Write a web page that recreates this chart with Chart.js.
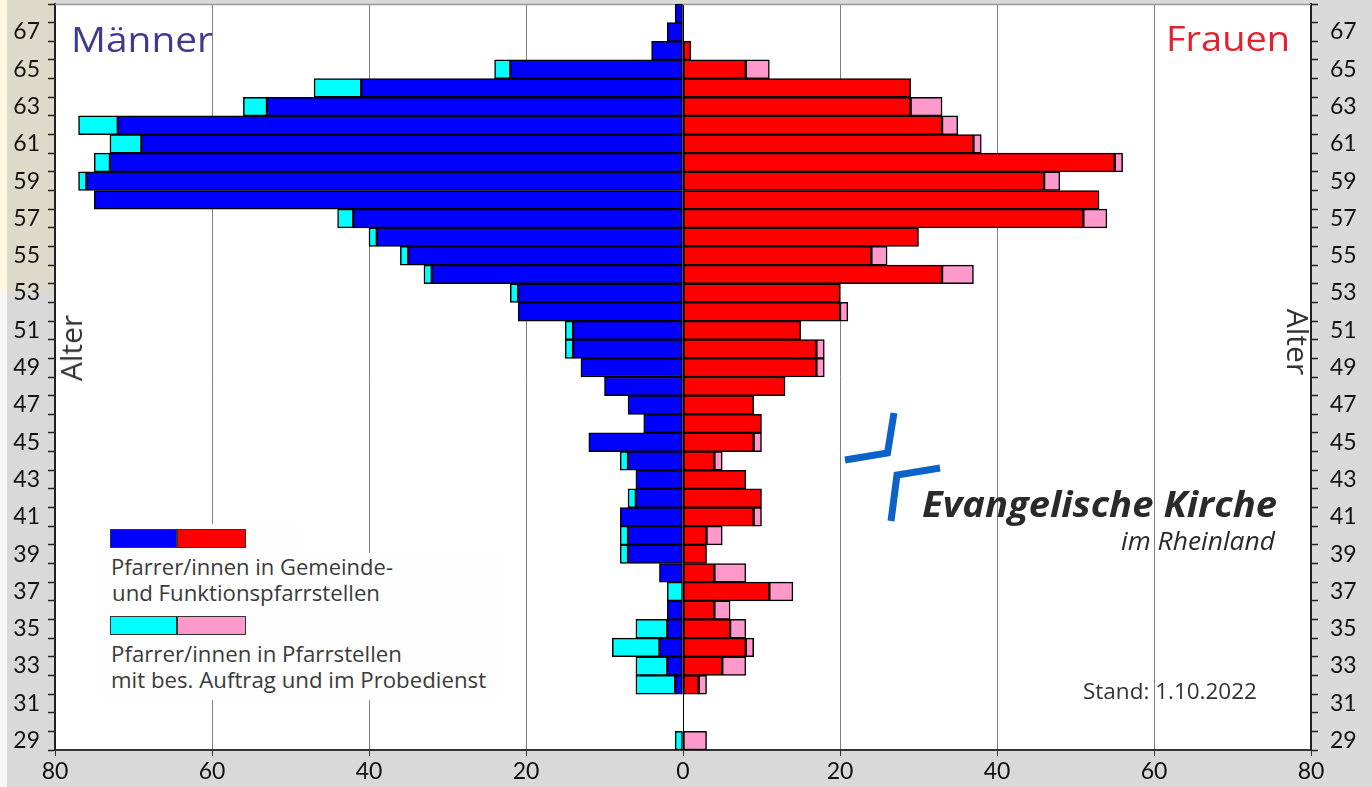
<!DOCTYPE html>
<html><head><meta charset="utf-8">
<script src="https://cdn.jsdelivr.net/npm/chart.js@4.4.1/dist/chart.umd.min.js"></script>
<style>
html,body{margin:0;padding:0;}
body{width:1372px;height:787px;position:relative;overflow:hidden;background:#d9d9d9;font-family:'Open Sans',sans-serif;}
#beige{position:absolute;left:0;top:0;width:55px;height:292px;background:#dedac9;}
#cream{position:absolute;left:0;top:0;width:7px;height:292px;background:#fdf8e2;}
#whitestrip{position:absolute;left:0;top:292px;width:7px;height:495px;background:#f6f6f6;}
canvas{position:absolute;left:0;top:0;}
.box{position:absolute;background:#fefefe;}
.sw{position:absolute;width:67px;height:19px;border:1px solid #333;box-sizing:border-box;}
.t{position:absolute;white-space:nowrap;line-height:1;transform-origin:0 0;color:#3a3a3a;}
.bl{display:inline-block;width:0;height:0;vertical-align:baseline;}
.r{position:absolute;white-space:nowrap;line-height:1;font-size:30px;color:#333;}
svg{position:absolute;left:0;top:0;}
</style>
</head>
<body>
<div id="beige"></div><div id="cream"></div><div id="whitestrip"></div>
<canvas id="c" width="1372" height="787" style="width:1372px;height:787px"></canvas>

<div class="box" style="left:100px;top:524px;width:200px;height:30px"></div>
<div class="box" style="left:100px;top:553px;width:400px;height:147px"></div>
<div class="sw" style="left:110px;top:529px;background:#0000ff"></div>
<div class="sw" style="left:177px;top:529px;width:69px;background:#ff0000"></div>
<div class="sw" style="left:110px;top:616px;background:#00ffff"></div>
<div class="sw" style="left:177px;top:616px;width:69px;background:#ff99cc"></div>

<div class="t" data-x="71" data-b="52" data-w="142" style="font-size:35px;color:#3d3a8f">Männer</div>
<div class="t" data-x="1166" data-b="51" data-w="124" style="font-size:35px;color:#e5202e">Frauen</div>
<div class="t" data-x="111" data-b="575" data-w="282" style="font-size:21px">Pfarrer/innen in Gemeinde-</div>
<div class="t" data-x="112" data-b="601" data-w="268" style="font-size:21px">und Funktionspfarrstellen</div>
<div class="t" data-x="111" data-b="662" data-w="291" style="font-size:21px">Pfarrer/innen in Pfarrstellen</div>
<div class="t" data-x="111" data-b="688" data-w="375" style="font-size:21px">mit bes. Auftrag und im Probedienst</div>
<div class="t" data-x="922" data-b="517" data-w="355" style="font-size:35px;font-weight:700;font-style:italic;color:#2a2a2a">Evangelische Kirche</div>
<div class="t" data-x="1121" data-b="550" data-w="154" style="font-size:26px;font-style:italic;color:#2a2a2a">im Rheinland</div>
<div class="t" data-x="1083" data-b="699" data-w="174" style="font-size:22px;color:#333">Stand: 1.10.2022</div>

<div class="r" style="left:71px;top:348px;transform:translate(-50%,-50%) rotate(-90deg)">Alter</div>
<div class="r" style="left:1298px;top:342px;transform:translate(-50%,-50%) rotate(90deg)">Alter</div>

<svg width="1372" height="787">
  <polyline points="845,460 887.5,453 894,413" fill="none" stroke="#0b63c9" stroke-width="7" stroke-linejoin="miter"/>
  <polyline points="940,468 897,475 891,521" fill="none" stroke="#0b63c9" stroke-width="7" stroke-linejoin="miter"/>
</svg>

<script>
// Ages from top row to bottom row
const ages = [68,67,66,65,64,63,62,61,60,59,58,57,56,55,54,53,52,51,50,49,48,47,46,45,44,43,42,41,40,39,38,37,36,35,34,33,32,31,30,29];
// Männer: Gemeinde- und Funktionspfarrstellen
const maleMain = [1,2,4,22,41,53,72,69,73,76,75,42,39,35,32,21,21,14,14,13,10,7,5,12,7,6,6,8,7,7,3,0,2,2,3,2,1,0,0,0];
// Männer: bes. Auftrag und Probedienst
const maleSpecial = [0,0,0,2,6,3,5,4,2,1,0,2,1,1,1,1,0,1,1,0,0,0,0,0,1,0,1,0,1,1,0,2,0,4,6,4,5,0,0,1];
// Frauen: Gemeinde- und Funktionspfarrstellen
const femaleMain = [0,0,1,8,29,29,33,37,55,46,53,51,30,24,33,20,20,15,17,17,13,9,10,9,4,8,10,9,3,3,4,11,4,6,8,5,2,0,0,0];
// Frauen: bes. Auftrag und Probedienst
const femaleSpecial = [0,0,0,3,0,4,2,1,1,2,0,3,0,2,4,0,1,0,1,1,0,0,0,1,1,0,0,1,2,0,4,3,2,2,1,3,1,0,0,3];
// x axis ticks
const xMin = -80, xMax = 80, xStep = 20;

const ageLabels = ages.map(String);
const tickFont = {family:'Lato', size:23};

const plotBg = {
  id:'plotBg',
  beforeDraw(c){
    const {ctx, chartArea:a} = c;
    ctx.save();
    ctx.fillStyle = '#ffffff';
    ctx.fillRect(a.left, a.top, a.right - a.left, a.bottom - a.top);
    ctx.restore();
  },
  beforeDatasetsDraw(c){
    const {ctx, chartArea:a} = c;
    ctx.save();
    ctx.strokeStyle = '#9a9a9a'; ctx.lineWidth = 1.5;
    ctx.beginPath(); ctx.moveTo(a.left, a.top + 0.5); ctx.lineTo(a.right, a.top + 0.5); ctx.stroke();
    ctx.restore();
  }
};

const yTicks = (pad) => ({
  autoSkip:false, color:'#111', font:tickFont, padding:pad,
  callback: function(v, i){ const a = ages[i]; return a % 2 === 1 ? String(a) : ''; }
});
const yGrid = {drawOnChartArea:false, drawTicks:true, tickLength:7, color:'#222', tickColor:'#222', tickWidth:1.5, offset:true};
const zeroPad = s => { s.paddingTop = 0; s.paddingBottom = 0; s.paddingLeft = 0; s.paddingRight = 0; };

new Chart(document.getElementById('c'), {
  type:'bar',
  data:{
    labels: ageLabels,
    datasets:[
      {label:'Männer Gemeinde', data: maleMain.map(v => -v), backgroundColor:'#0000ff'},
      {label:'Männer bes. Auftrag', data: maleSpecial.map(v => -v), backgroundColor:'#00ffff'},
      {label:'Frauen Gemeinde', data: femaleMain, backgroundColor:'#ff0000'},
      {label:'Frauen bes. Auftrag', data: femaleSpecial, backgroundColor:'#ff99cc'}
    ]
  },
  options:{
    indexAxis:'y', responsive:false, animation:false, devicePixelRatio:1,
    datasets:{bar:{categoryPercentage:1, barPercentage:1, borderColor:'#000', borderWidth:1.5, borderSkipped:false}},
    layout:{padding:{top:4, left:0, right:0, bottom:0}},
    plugins:{legend:{display:false}, tooltip:{enabled:false}},
    scales:{
      x:{
        type:'linear', min:xMin, max:xMax, stacked:true,
        ticks:{stepSize:xStep, color:'#111', font:tickFont, padding:2, callback: v => Math.abs(v)},
        grid:{color: ctx => (ctx.tick && ctx.tick.value === 0) ? '#000' : '#808080', lineWidth:1, tickLength:6, tickColor:'#333'},
        border:{color:'#333', width:2},
        afterFit: s => { s.height = 37; zeroPad(s); }
      },
      y:{
        position:'left', stacked:true, offset:true,
        ticks: yTicks(8), grid: yGrid,
        border:{color:'#222', width:2},
        afterFit: s => { s.width = 55; zeroPad(s); }
      },
      y2:{
        type:'category', labels: ageLabels, position:'right', offset:true,
        ticks: yTicks(12), grid: yGrid,
        border:{color:'#222', width:2},
        afterFit: s => { s.width = 61; zeroPad(s); }
      }
    }
  },
  plugins:[plotBg]
});

// position overlay texts by baseline and target width
document.querySelectorAll('.t').forEach(el => {
  const m = document.createElement('span'); m.className = 'bl'; el.appendChild(m);
  el.style.left = el.dataset.x + 'px'; el.style.top = '0px';
  const r = el.getBoundingClientRect();
  const b0 = m.getBoundingClientRect().top - r.top;
  el.style.top = (parseFloat(el.dataset.b) - b0) + 'px';
  const k = parseFloat(el.dataset.w) / r.width;
  el.style.transform = 'scaleX(' + k.toFixed(3) + ')';
});
</script>
</body></html>
